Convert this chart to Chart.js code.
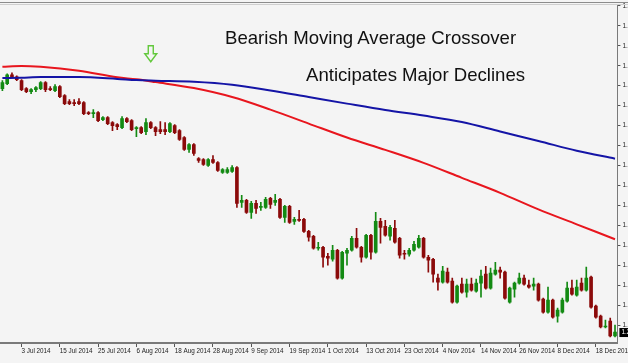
<!DOCTYPE html>
<html>
<head>
<meta charset="utf-8">
<script src="https://cdn.jsdelivr.net/npm/chart.js@4.4.1/dist/chart.umd.min.js"></script>
<style>
  html, body { margin: 0; padding: 0; background: #fff; }
  #wrap { position: relative; width: 628px; height: 363px; overflow: hidden; background: #f4f4f4; }
  #c { position: absolute; left: 0; top: 0; }
  .note {
    position: absolute;
    font-family: "Liberation Sans", Arial, sans-serif;
    font-size: 18.6px;
    line-height: 18.6px;
    color: #111;
    white-space: nowrap;
  }
</style>
</head>
<body>
<div id="wrap">
  <canvas id="c" width="680" height="363"></canvas>
  <div class="note" style="left:225px;top:28.6px">Bearish Moving Average Crossover</div>
  <div class="note" style="left:306px;top:66px">Anticipates Major Declines</div>
</div>
<script>
// daily bars, 27 Jun 2014 - 24 Dec 2014
const labels = [
  "27 Jun 2014", "30 Jun 2014",
  "1 Jul 2014", "2 Jul 2014", "3 Jul 2014", "4 Jul 2014", "7 Jul 2014", "8 Jul 2014", "9 Jul 2014", "10 Jul 2014",
  "11 Jul 2014", "14 Jul 2014", "15 Jul 2014", "16 Jul 2014", "17 Jul 2014", "18 Jul 2014", "21 Jul 2014", "22 Jul 2014",
  "23 Jul 2014", "24 Jul 2014", "25 Jul 2014", "28 Jul 2014", "29 Jul 2014", "30 Jul 2014", "31 Jul 2014",
  "1 Aug 2014", "4 Aug 2014", "5 Aug 2014", "6 Aug 2014", "7 Aug 2014", "8 Aug 2014", "11 Aug 2014", "12 Aug 2014",
  "13 Aug 2014", "14 Aug 2014", "15 Aug 2014", "18 Aug 2014", "19 Aug 2014", "20 Aug 2014", "21 Aug 2014", "22 Aug 2014",
  "25 Aug 2014", "26 Aug 2014", "27 Aug 2014", "28 Aug 2014", "29 Aug 2014",
  "1 Sep 2014", "2 Sep 2014", "3 Sep 2014", "4 Sep 2014", "5 Sep 2014", "8 Sep 2014", "9 Sep 2014", "10 Sep 2014",
  "11 Sep 2014", "12 Sep 2014", "15 Sep 2014", "16 Sep 2014", "17 Sep 2014", "18 Sep 2014", "19 Sep 2014", "22 Sep 2014",
  "23 Sep 2014", "24 Sep 2014", "25 Sep 2014", "26 Sep 2014", "29 Sep 2014", "30 Sep 2014",
  "1 Oct 2014", "2 Oct 2014", "3 Oct 2014", "6 Oct 2014", "7 Oct 2014", "8 Oct 2014", "9 Oct 2014", "10 Oct 2014",
  "13 Oct 2014", "14 Oct 2014", "15 Oct 2014", "16 Oct 2014", "17 Oct 2014", "20 Oct 2014", "21 Oct 2014", "22 Oct 2014",
  "23 Oct 2014", "24 Oct 2014", "27 Oct 2014", "28 Oct 2014", "29 Oct 2014", "30 Oct 2014", "31 Oct 2014",
  "3 Nov 2014", "4 Nov 2014", "5 Nov 2014", "6 Nov 2014", "7 Nov 2014", "10 Nov 2014", "11 Nov 2014", "12 Nov 2014",
  "13 Nov 2014", "14 Nov 2014", "17 Nov 2014", "18 Nov 2014", "19 Nov 2014", "20 Nov 2014", "21 Nov 2014", "24 Nov 2014",
  "25 Nov 2014", "26 Nov 2014", "27 Nov 2014", "28 Nov 2014",
  "1 Dec 2014", "2 Dec 2014", "3 Dec 2014", "4 Dec 2014", "5 Dec 2014", "8 Dec 2014", "9 Dec 2014", "10 Dec 2014",
  "11 Dec 2014", "12 Dec 2014", "15 Dec 2014", "16 Dec 2014", "17 Dec 2014", "18 Dec 2014", "19 Dec 2014", "22 Dec 2014",
  "23 Dec 2014", "24 Dec 2014"
];

const open = [
  1.366, 1.3685, 1.373, 1.372, 1.370, 1.366, 1.3645, 1.3655, 1.366, 1.369,
  1.366, 1.365, 1.367, 1.3625, 1.3595, 1.359, 1.3595, 1.359, 1.354, 1.3535,
  1.354, 1.3505, 1.3515, 1.349, 1.348, 1.3465, 1.351, 1.350, 1.346, 1.3465,
  1.3445, 1.349, 1.3465, 1.3455, 1.3455, 1.3445, 1.3475, 1.345, 1.3415, 1.3355,
  1.338, 1.331, 1.3305, 1.3275, 1.3305, 1.329, 1.324, 1.324, 1.3245, 1.3265,
  1.309, 1.310, 1.304, 1.3085, 1.3065, 1.3065, 1.311, 1.309, 1.3105, 1.3015,
  1.307, 1.2995, 1.3005, 1.3005, 1.2945, 1.292, 1.286, 1.2865, 1.282, 1.2805,
  1.285, 1.271, 1.2835, 1.285, 1.291, 1.2865, 1.2815, 1.2925, 1.284, 1.2995,
  1.297, 1.292, 1.296, 1.291, 1.2835, 1.283, 1.285, 1.2865, 1.291, 1.2815,
  1.2805, 1.271, 1.269, 1.274, 1.2695, 1.259, 1.268, 1.264, 1.268, 1.2645,
  1.2685, 1.273, 1.266, 1.273, 1.275, 1.274, 1.259, 1.2655, 1.2685, 1.271,
  1.2675, 1.267, 1.268, 1.2605, 1.254, 1.260, 1.252, 1.254, 1.2595, 1.266,
  1.2625, 1.2685, 1.265, 1.2715, 1.257, 1.252, 1.2465, 1.2495, 1.242
];
const high = [
  1.370, 1.3735, 1.374, 1.3725, 1.3705, 1.3665, 1.366, 1.367, 1.3695, 1.3695,
  1.367, 1.368, 1.3675, 1.363, 1.3605, 1.3605, 1.361, 1.3595, 1.3545, 1.3555,
  1.3545, 1.352, 1.352, 1.3495, 1.3485, 1.352, 1.3515, 1.3505, 1.347, 1.347,
  1.351, 1.3495, 1.347, 1.3495, 1.349, 1.349, 1.348, 1.3455, 1.342, 1.3385,
  1.3385, 1.3315, 1.331, 1.331, 1.3325, 1.3295, 1.326, 1.3265, 1.3275, 1.327,
  1.3125, 1.3105, 1.3095, 1.310, 1.309, 1.3115, 1.3115, 1.313, 1.311, 1.3075,
  1.3075, 1.3015, 1.305, 1.301, 1.295, 1.2925, 1.289, 1.287, 1.2835, 1.2875,
  1.2855, 1.2845, 1.286, 1.292, 1.296, 1.287, 1.293, 1.293, 1.304, 1.301,
  1.300, 1.2975, 1.300, 1.2915, 1.285, 1.286, 1.2895, 1.2925, 1.2915, 1.2825,
  1.281, 1.273, 1.277, 1.276, 1.271, 1.2675, 1.271, 1.2705, 1.271, 1.2705,
  1.275, 1.277, 1.276, 1.279, 1.2765, 1.2745, 1.2665, 1.269, 1.2735, 1.2725,
  1.270, 1.271, 1.2685, 1.261, 1.2665, 1.2605, 1.256, 1.261, 1.269, 1.270,
  1.270, 1.271, 1.2765, 1.272, 1.2575, 1.2525, 1.250, 1.251, 1.2475
];
const low = [
  1.365, 1.368, 1.3715, 1.370, 1.365, 1.364, 1.3635, 1.3645, 1.3655, 1.3645,
  1.365, 1.3645, 1.3615, 1.358, 1.358, 1.3575, 1.358, 1.353, 1.353, 1.3515,
  1.3495, 1.350, 1.348, 1.345, 1.3455, 1.346, 1.349, 1.345, 1.342, 1.3435,
  1.343, 1.346, 1.3425, 1.3435, 1.343, 1.344, 1.3435, 1.340, 1.335, 1.334,
  1.3325, 1.329, 1.3275, 1.327, 1.3285, 1.3245, 1.3235, 1.3235, 1.324, 1.3065,
  1.3065, 1.3035, 1.301, 1.3035, 1.305, 1.306, 1.306, 1.3075, 1.301, 1.299,
  1.2985, 1.298, 1.2995, 1.294, 1.2895, 1.2855, 1.285, 1.2765, 1.2775, 1.2795,
  1.2705, 1.2705, 1.2775, 1.2845, 1.286, 1.279, 1.281, 1.2805, 1.2835, 1.2885,
  1.292, 1.290, 1.2885, 1.281, 1.2805, 1.282, 1.2845, 1.286, 1.281, 1.274,
  1.269, 1.265, 1.2685, 1.2685, 1.2585, 1.2585, 1.2635, 1.2615, 1.2645, 1.264,
  1.2615, 1.2655, 1.2655, 1.2725, 1.271, 1.2605, 1.2585, 1.2615, 1.268, 1.2675,
  1.266, 1.265, 1.2595, 1.2535, 1.2535, 1.251, 1.249, 1.2535, 1.259, 1.2625,
  1.262, 1.2645, 1.2645, 1.256, 1.251, 1.246, 1.246, 1.2415, 1.2415
];
const close = [
  1.369, 1.373, 1.372, 1.3705, 1.3655, 1.3645, 1.3655, 1.3665, 1.369, 1.3655,
  1.3655, 1.367, 1.362, 1.3585, 1.3585, 1.3585, 1.3585, 1.3535, 1.3535, 1.354,
  1.350, 1.3515, 1.3485, 1.3475, 1.347, 1.351, 1.3495, 1.3455, 1.3465, 1.344,
  1.349, 1.3465, 1.3445, 1.3445, 1.3445, 1.3485, 1.344, 1.3405, 1.3355, 1.338,
  1.3335, 1.330, 1.328, 1.3305, 1.329, 1.325, 1.3255, 1.3255, 1.3265, 1.3085,
  1.310, 1.304, 1.3085, 1.306, 1.307, 1.3105, 1.308, 1.310, 1.3015, 1.307,
  1.299, 1.3005, 1.300, 1.2945, 1.2915, 1.286, 1.2865, 1.2815, 1.281, 1.285,
  1.271, 1.284, 1.285, 1.291, 1.2865, 1.2815, 1.2925, 1.284, 1.2995, 1.2965,
  1.2925, 1.2965, 1.289, 1.2825, 1.283, 1.285, 1.288, 1.291, 1.2815, 1.280,
  1.273, 1.269, 1.2745, 1.269, 1.259, 1.267, 1.264, 1.268, 1.265, 1.2685,
  1.272, 1.266, 1.2735, 1.275, 1.274, 1.261, 1.266, 1.2685, 1.271, 1.268,
  1.2665, 1.268, 1.260, 1.254, 1.260, 1.2515, 1.255, 1.260, 1.266, 1.263,
  1.2665, 1.265, 1.271, 1.2565, 1.2515, 1.2465, 1.247, 1.242, 1.244
];

// moving averages, read at these bars
const maDates = [
  "27 Jun 2014", "3 Jul 2014", "9 Jul 2014", "21 Jul 2014", "31 Jul 2014", "6 Aug 2014", "12 Aug 2014",
  "22 Aug 2014", "3 Sep 2014", "15 Sep 2014", "25 Sep 2014", "7 Oct 2014", "17 Oct 2014", "29 Oct 2014",
  "10 Nov 2014", "20 Nov 2014", "2 Dec 2014", "12 Dec 2014", "24 Dec 2014"
];
const maFast = [
  1.3770, 1.3774, 1.3770, 1.3750, 1.3717, 1.3707, 1.3693,
  1.3663, 1.3618, 1.3555, 1.3485, 1.3415, 1.3353, 1.3288,
  1.3213, 1.3138, 1.3055, 1.2980, 1.2905
];
const maSlow = [
  1.3713, 1.3715, 1.3718, 1.3718, 1.3709, 1.3703, 1.3700,
  1.3695, 1.3680, 1.3651, 1.3618, 1.3585, 1.3553, 1.3525,
  1.3493, 1.3445, 1.3398, 1.3349, 1.3309
];

const yTicks = [
  1.4075, 1.3975, 1.3875, 1.3775, 1.3675, 1.3575, 1.3475, 1.3375, 1.3275,
  1.3175, 1.3075, 1.2975, 1.2875, 1.2775, 1.2675, 1.2575, 1.2475
];

const arrowBar = "11 Aug 2014";
const arrowTop = 1.3875;

const BULL = "#138a13";
const BEAR = "#8b0a0a";

const candleColors = close.map((c, i) => (c >= open[i] ? BULL : BEAR));

const chartFrame = {
  id: "chartFrame",
  beforeDraw(chart) {
    const { ctx, width, height } = chart;
    ctx.save();
    ctx.fillStyle = "#f4f4f4";
    ctx.fillRect(0, 0, width, height);
    ctx.restore();
  },
  afterDraw(chart) {
    const { ctx, chartArea: a } = chart;
    const x = chart.scales.x;
    const y = chart.scales.y;
    ctx.save();

    // window border on top
    ctx.lineWidth = 1;
    ctx.strokeStyle = "#8c8c8c";
    ctx.beginPath();
    ctx.moveTo(0, 2.5);
    ctx.lineTo(chart.width, 2.5);
    ctx.stroke();
    ctx.strokeStyle = "#cfcfcf";
    ctx.beginPath();
    ctx.moveTo(0, 4.5);
    ctx.lineTo(chart.width, 4.5);
    ctx.stroke();

    // crossover arrow
    const ax = x.getPixelForValue(labels.indexOf(arrowBar));
    const ay = y.getPixelForValue(arrowTop);
    ctx.strokeStyle = "#62c83c";
    ctx.lineWidth = 1.4;
    ctx.beginPath();
    ctx.moveTo(ax - 2.5, ay);
    ctx.lineTo(ax + 2.5, ay);
    ctx.lineTo(ax + 2.5, ay + 8);
    ctx.lineTo(ax + 6, ay + 8);
    ctx.lineTo(ax, ay + 16);
    ctx.lineTo(ax - 6, ay + 8);
    ctx.lineTo(ax - 2.5, ay + 8);
    ctx.closePath();
    ctx.stroke();

    // last price marker
    const last = close[close.length - 1];
    const py = y.getPixelForValue(last);
    ctx.fillStyle = "#000";
    ctx.fillRect(a.right + 2, py - 4, 40, 9);
    ctx.fillStyle = "#fff";
    ctx.font = '6.5px "Liberation Sans", Arial, sans-serif';
    ctx.textBaseline = "middle";
    ctx.fillText(last.toFixed(4), a.right + 4, py + 0.5);

    ctx.restore();
  }
};

new Chart(document.getElementById("c"), {
  type: "bar",
  data: {
    labels: labels,
    datasets: [
      {
        type: "line",
        label: "Slow MA",
        data: maDates.map((d, i) => ({ x: d, y: maSlow[i] })),
        borderColor: "#1414a6",
        borderWidth: 2,
        pointRadius: 0,
        tension: 0.4,
        cubicInterpolationMode: "monotone",
        order: 0
      },
      {
        type: "line",
        label: "Fast MA",
        data: maDates.map((d, i) => ({ x: d, y: maFast[i] })),
        borderColor: "#e8161e",
        borderWidth: 2,
        pointRadius: 0,
        tension: 0.4,
        cubicInterpolationMode: "monotone",
        order: 1
      },
      {
        label: "Body",
        data: open.map((o, i) => [o, close[i]]),
        backgroundColor: candleColors,
        barThickness: 3,
        minBarLength: 1,
        grouped: false,
        order: 2
      },
      {
        label: "Wick",
        data: low.map((l, i) => [l, high[i]]),
        backgroundColor: candleColors,
        barThickness: 1,
        grouped: false,
        order: 3
      }
    ]
  },
  options: {
    responsive: false,
    devicePixelRatio: 1,
    animation: false,
    layout: { padding: { top: 5, left: 0, right: 0, bottom: 0 } },
    plugins: { legend: { display: false }, tooltip: { enabled: false } },
    scales: {
      x: {
        type: "category",
        offset: true,
        afterBuildTicks: (scale) => {
          scale.ticks = scale.ticks.filter((t) => t.value % 8 === 4);
        },
        afterFit: (scale) => { scale.height = 20; },
        ticks: {
          autoSkip: false,
          maxRotation: 0,
          align: "start",
          padding: 0,
          color: "#222",
          font: { family: "Liberation Sans", size: 6.3 }
        },
        grid: { drawOnChartArea: false, offset: false, tickLength: 4, color: "#555" },
        border: { color: "#7a7a7a", width: 2 }
      },
      y: {
        position: "right",
        min: 1.2385,
        max: 1.4075,
        afterBuildTicks: (scale) => {
          scale.ticks = yTicks.map((v) => ({ value: v }));
        },
        afterFit: (scale) => { scale.width = 62.6; },
        ticks: {
          padding: 2,
          color: "#222",
          font: { family: "Liberation Sans", size: 6.5 },
          callback: (v) => Number(v).toFixed(4)
        },
        grid: { drawOnChartArea: false, tickLength: 3, color: "#555" },
        border: { color: "#7a7a7a", width: 1 }
      }
    }
  },
  plugins: [chartFrame]
});
</script>
</body>
</html>
